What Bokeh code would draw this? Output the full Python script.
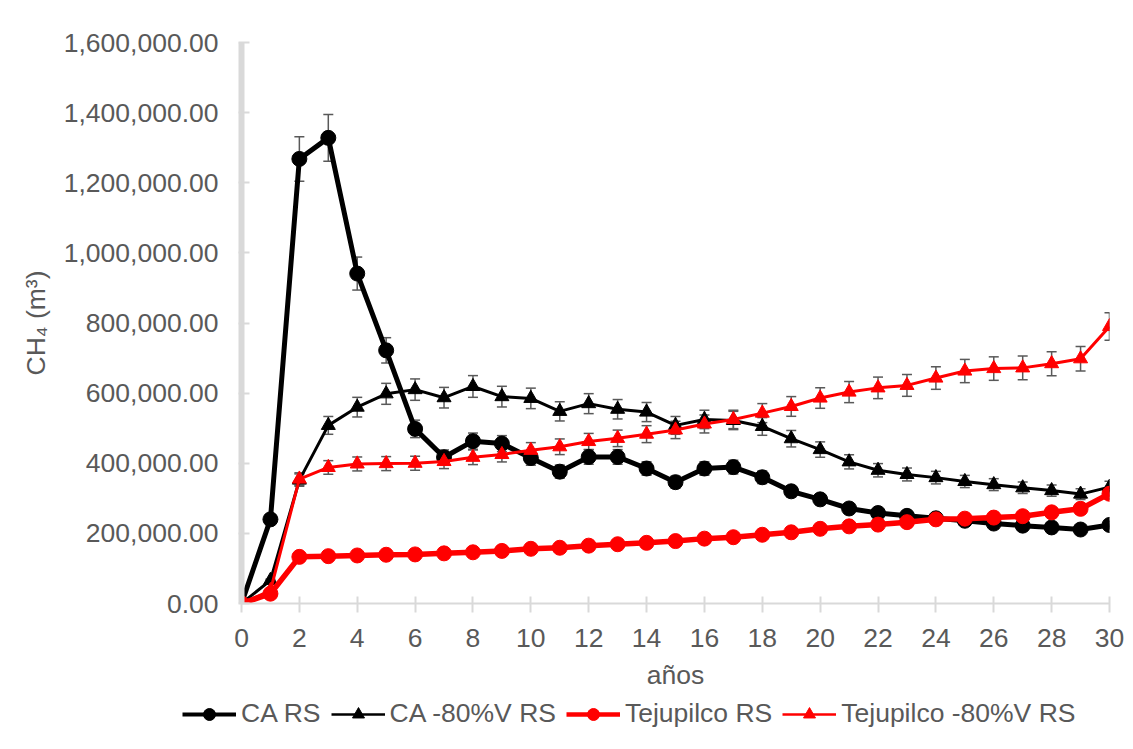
from bokeh.plotting import figure
from bokeh.layouts import column, row
from bokeh.models import (ColumnDataSource, Whisker, TeeHead, Legend, LegendItem,
                          NumeralTickFormatter, FixedTicker, Range1d)
from bokeh.embed import file_html
from bokeh.resources import INLINE

years = list(range(31))
x_ticks = list(range(0, 31, 2))
y_ticks = [0, 200000, 400000, 600000, 800000, 1000000, 1200000, 1400000, 1600000]

ca_rs = [0, 240000, 1268000, 1328000, 941000, 722000, 498000, 417000, 463000, 456000,
         415000, 376000, 418000, 418000, 385000, 346000, 385000, 389000, 360000, 320000,
         297000, 271000, 258000, 250000, 243000, 236000, 228000, 222000, 217000, 211000, 224000]
ca_80 = [0, 66000, 352000, 508000, 560000, 598000, 610000, 587000, 619000, 590000,
         585000, 548000, 570000, 554000, 546000, 508000, 525000, 522000, 505000, 470000,
         439000, 404000, 380000, 368000, 359000, 348000, 339000, 330000, 322000, 312000, 332000]
tej_rs = [0, 28000, 133000, 135000, 137000, 139000, 140000, 143000, 146000, 150000,
          156000, 159000, 165000, 169000, 173000, 178000, 185000, 189000, 196000, 203000,
          213000, 220000, 225000, 232000, 240000, 242000, 245000, 249000, 260000, 270000, 313000]
tej_80 = [0, 37000, 355000, 388000, 398000, 399000, 400000, 405000, 417000, 425000,
          437000, 447000, 462000, 471000, 483000, 495000, 512000, 525000, 543000, 562000,
          586000, 603000, 615000, 622000, 643000, 663000, 670000, 672000, 684000, 698000, 790000]
error_pct = 0.05

series_names = ["CA RS", "CA -80%V RS", "Tejupilco RS", "Tejupilco -80%V RS"]
series_vals = [ca_rs, ca_80, tej_rs, tej_80]
colors = ["black", "black", "#ff0000", "#ff0000"]
markers = ["circle", "triangle", "circle", "triangle"]
msizes = [15, 14, 15, 14]
widths = [5, 3, 5.5, 3]
leg_widths = [4, 2.3, 4.5, 2.3]

FONT = "Liberation Sans"
FS = "26.5px"
TXT = "#595959"
AX = "#d9d9d9"
W = 1133
H_MAIN = 695
H_LEG = 54

p = figure(width=W, height=H_MAIN, output_backend="svg", toolbar_location=None,
           x_range=Range1d(0, 30), y_range=Range1d(0, 1600000),
           min_border_left=241, min_border_right=24, min_border_top=42,
           min_border_bottom=H_MAIN - 603, background_fill_color="white",
           border_fill_color="white")
p.outline_line_color = None
p.xgrid.visible = False
p.ygrid.visible = False

# legend-only figure: it shows the same series, but its view range lies outside
# the data, so only the legend keys are visible
lf = figure(width=W, height=H_LEG, output_backend="svg", toolbar_location=None,
            x_range=Range1d(100, 101), y_range=Range1d(-2, -1),
            min_border=0, background_fill_color="white", border_fill_color="white")
lf.outline_line_color = None
lf.axis.visible = False
lf.grid.visible = False

items = []
for name, vals, c, m, ms, w, lw in zip(series_names, series_vals, colors, markers,
                                       msizes, widths, leg_widths):
    lo = [v * (1 - error_pct) for v in vals]
    hi = [v * (1 + error_pct) for v in vals]
    src = ColumnDataSource(dict(x=years, y=vals, lo=lo, hi=hi))
    wk = Whisker(base="x", upper="hi", lower="lo", source=src,
                 line_color="#595959", line_width=1.5,
                 upper_head=TeeHead(size=10, line_color="#595959", line_width=1.5),
                 lower_head=TeeHead(size=10, line_color="#595959", line_width=1.5))
    p.add_layout(wk)
    p.line("x", "y", source=src, line_color=c, line_width=w)
    p.scatter("x", "y", source=src, marker=m, size=ms, fill_color=c, line_color=c)
    lln = lf.line("x", "y", source=src, line_color=c, line_width=lw)
    lsc = lf.scatter("x", "y", source=src, marker=m, size=ms - 2, fill_color=c, line_color=c)
    items.append(LegendItem(label=name, renderers=[lln, lsc]))

legend = Legend(items=items, orientation="horizontal", location=(182, H_LEG - 34),
                glyph_width=54, glyph_height=30, label_standoff=5, spacing=10,
                padding=0, margin=0, border_line_color=None, background_fill_alpha=0,
                label_text_font=FONT, label_text_font_size=FS, label_text_color=TXT)
lf.add_layout(legend, "center")

# x axis
p.xaxis.ticker = FixedTicker(ticks=x_ticks)
p.xaxis.minor_tick_line_color = None
p.xaxis.axis_line_color = AX
p.xaxis.axis_line_width = 2
p.xaxis.major_tick_line_color = AX
p.xaxis.major_tick_line_width = 2
p.xaxis.major_tick_in = 7
p.xaxis.major_tick_out = 9
p.xaxis.major_label_standoff = 16
p.xaxis.major_label_text_font = FONT
p.xaxis.major_label_text_font_size = FS
p.xaxis.major_label_text_color = TXT
p.xaxis.axis_label = "años"
p.xaxis.axis_label_text_font = FONT
p.xaxis.axis_label_text_font_size = FS
p.xaxis.axis_label_text_font_style = "normal"
p.xaxis.axis_label_text_color = TXT
p.xaxis.axis_label_standoff = 10

# y axis
p.yaxis.ticker = FixedTicker(ticks=y_ticks)
p.yaxis.formatter = NumeralTickFormatter(format="0,0.00")
p.yaxis.minor_tick_line_color = None
p.yaxis.axis_line_color = AX
p.yaxis.axis_line_width = 6
p.yaxis.major_tick_line_color = AX
p.yaxis.major_tick_line_width = 2
p.yaxis.major_tick_in = 8
p.yaxis.major_tick_out = 3
p.yaxis.major_label_standoff = 20
p.yaxis.major_label_text_font = FONT
p.yaxis.major_label_text_font_size = FS
p.yaxis.major_label_text_color = TXT
p.yaxis.axis_label = "CH₄ (m³)"
p.yaxis.axis_label_text_font = FONT
p.yaxis.axis_label_text_font_size = FS
p.yaxis.axis_label_text_font_style = "normal"
p.yaxis.axis_label_text_color = TXT
p.yaxis.axis_label_standoff = 10

layout = column(p, row(lf, spacing=0), spacing=0)
open("out.html", "w").write(file_html(layout, INLINE))
